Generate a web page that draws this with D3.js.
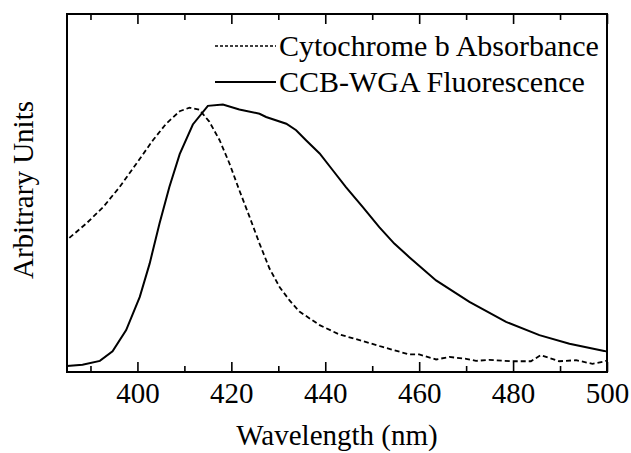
<!DOCTYPE html>
<html>
<head>
<meta charset="utf-8">
<script src="https://cdn.jsdelivr.net/npm/d3@7"></script>
<style>
  html, body { margin: 0; padding: 0; background: #fff; }
</style>
</head>
<body>
<svg id="chart" width="631" height="453"></svg>
<script>
// ---- Data ----
const seriesNames = ["Cytochrome b Absorbance", "CCB-WGA Fluorescence"];

// CCB-WGA Fluorescence (solid)
const fluorWavelength = [385, 388.3, 392.0, 394.7, 397.6, 400.5, 402.6, 404.7, 406.8, 409.0, 411.8, 415.0, 418.2, 421.7, 426.0, 427.4, 431.7, 433.8, 435.9, 438.8, 441.6, 444.4, 448.0, 451.5, 454.7, 457.9, 463.6, 470.7, 478.5, 485.6, 492.0, 499.4, 500];
const fluorValue      = [1.7, 2.0, 3.1, 5.8, 11.7, 21.0, 30.3, 41.5, 51.7, 60.9, 69.2, 74.4, 74.8, 73.4, 72.2, 71.3, 69.4, 67.6, 64.8, 61.1, 56.4, 51.7, 46.1, 40.5, 35.9, 32.1, 25.6, 19.6, 14.0, 10.3, 7.9, 5.9, 5.7];

// Cytochrome b Absorbance (dashed)
const absWavelength = [385.5, 389.1, 392.7, 396.2, 399.8, 403.3, 406.1, 409.0, 411.1, 413.2, 415.3, 417.5, 419.6, 421.7, 423.9, 426.0, 428.1, 430.3, 432.4, 434.5, 438.8, 443.0, 447.3, 452.2, 457.9, 460.0, 463.6, 466.4, 470.0, 472.1, 474.9, 479.9, 483.8, 485.9, 489.8, 493.4, 496.9, 499.6, 500];
const absValue      = [37.5, 41.5, 46.1, 51.7, 58.3, 64.8, 69.4, 72.9, 73.9, 73.3, 70.0, 64.8, 58.3, 50.8, 43.3, 35.9, 29.0, 23.7, 20.0, 16.9, 13.1, 10.5, 8.9, 7.0, 4.9, 4.9, 3.5, 4.2, 3.7, 3.1, 3.4, 3.0, 3.0, 4.7, 3.0, 3.3, 2.3, 3.0, 3.2];

const xMajorTicks = [400, 420, 440, 460, 480, 500];
const xMinorTicks = [390, 410, 430, 450, 470, 490];
const xDomain = [385, 500];
const yDomain = [0, 100];

const xTitle = "Wavelength (nm)";
const yTitle = "Arbitrary Units";

// ---- Layout ----
const svg = d3.select("#chart");
const plot = { left: 67, right: 607, top: 14, bottom: 372 };
const FONT = 29;
const FAMILY = "'Liberation Serif', 'Times New Roman', Times, serif";

const x = d3.scaleLinear().domain(xDomain).range([plot.left, plot.right]);
const y = d3.scaleLinear().domain(yDomain).range([plot.bottom, plot.bottom - 100 * 3.577]);

// curves
const line = d3.line().x(d => x(d[0])).y(d => y(d[1]));
const fluor = fluorWavelength.map((w, i) => [w, fluorValue[i]]);
const abs = absWavelength.map((w, i) => [w, absValue[i]]);

svg.append("path").datum(abs).attr("d", line)
  .attr("fill", "none").attr("stroke", "#000").attr("stroke-width", 1.8)
  .attr("stroke-dasharray", "5,3");
svg.append("path").datum(fluor).attr("d", line)
  .attr("fill", "none").attr("stroke", "#000").attr("stroke-width", 2);

// axes: bottom with labels, ticks inward
const bottomAxis = svg.append("g").attr("transform", `translate(0,${plot.bottom})`)
  .call(d3.axisBottom(x).tickValues(xMajorTicks).tickSize(-10).tickPadding(10).tickFormat(d3.format("d")));
bottomAxis.select(".domain").remove();
bottomAxis.selectAll("line").attr("stroke", "#000").attr("stroke-width", 1.6);
bottomAxis.selectAll("text").style("font-size", FONT + "px").style("font-family", FAMILY).attr("fill", "#000");

const bottomMinor = svg.append("g").attr("transform", `translate(0,${plot.bottom})`)
  .call(d3.axisBottom(x).tickValues(xMinorTicks).tickSize(-6).tickFormat(""));
bottomMinor.select(".domain").remove();
bottomMinor.selectAll("line").attr("stroke", "#000").attr("stroke-width", 1.6);

const topAxis = svg.append("g").attr("transform", `translate(0,${plot.top})`)
  .call(d3.axisTop(x).tickValues(xMajorTicks).tickSize(-10).tickFormat(""));
topAxis.select(".domain").remove();
topAxis.selectAll("line").attr("stroke", "#000").attr("stroke-width", 1.6);
const topMinor = svg.append("g").attr("transform", `translate(0,${plot.top})`)
  .call(d3.axisTop(x).tickValues(xMinorTicks).tickSize(-6).tickFormat(""));
topMinor.select(".domain").remove();
topMinor.selectAll("line").attr("stroke", "#000").attr("stroke-width", 1.6);

// frame
svg.append("rect").attr("x", plot.left).attr("y", plot.top)
  .attr("width", plot.right - plot.left).attr("height", plot.bottom - plot.top)
  .attr("fill", "none").attr("stroke", "#000").attr("stroke-width", 2);

// axis titles
svg.append("text").attr("x", (plot.left + plot.right) / 2).attr("y", 445)
  .attr("text-anchor", "middle").style("font-size", FONT + "px").style("font-family", FAMILY).text(xTitle);
svg.append("text").attr("transform", `translate(33,${(plot.top + plot.bottom) / 2 - 3}) rotate(-90)`)
  .attr("text-anchor", "middle").style("font-size", FONT + "px").style("font-family", FAMILY).text(yTitle);

// legend
const legendRows = [
  { name: seriesNames[0], dash: "3,2", y: 46 },
  { name: seriesNames[1], dash: null, y: 82 }
];
const lg = svg.append("g");
legendRows.forEach(r => {
  const ln = lg.append("line").attr("x1", 215).attr("x2", 276).attr("y1", r.y).attr("y2", r.y)
    .attr("stroke", "#000").attr("stroke-width", r.dash ? 1.5 : 2);
  if (r.dash) ln.attr("stroke-dasharray", r.dash);
  lg.append("text").attr("x", 279).attr("y", r.y + 10)
    .style("font-size", "30px").style("font-family", FAMILY).text(r.name);
});
</script>
</body>
</html>
